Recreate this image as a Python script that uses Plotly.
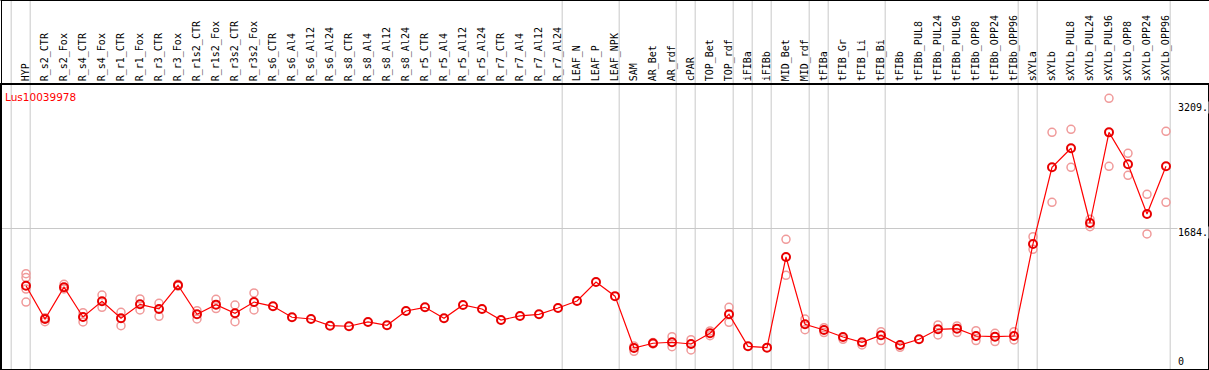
import plotly.graph_objects as go

categories = ["HYP", "R_s2_CTR", "R_s2_Fox", "R_s4_CTR", "R_s4_Fox", "R_r1_CTR", "R_r1_Fox",
              "R_r3_CTR", "R_r3_Fox", "R_r1s2_CTR", "R_r1s2_Fox", "R_r3s2_CTR", "R_r3s2_Fox",
              "R_s6_CTR", "R_s6_Al4", "R_s6_Al12", "R_s6_Al24", "R_s8_CTR", "R_s8_Al4", "R_s8_Al12",
              "R_s8_Al24", "R_r5_CTR", "R_r5_Al4", "R_r5_Al12", "R_r5_Al24", "R_r7_CTR", "R_r7_Al4",
              "R_r7_Al12", "R_r7_Al24", "LEAF_N", "LEAF_P", "LEAF_NPK", "SAM", "AR_Bet", "AR_rdf",
              "cPAR", "TOP_Bet", "TOP_rdf", "iFIBa", "iFIBb", "MID_Bet", "MID_rdf", "tFIBa",
              "tFIB_Gr", "tFIB_Li", "tFIB_Bi", "tFIBb", "tFIBb_PUL8", "tFIBb_PUL24", "tFIBb_PUL96",
              "tFIBb_OPP8", "tFIBb_OPP24", "tFIBb_OPP96", "sXYLa", "sXYLb", "sXYLb_PUL8",
              "sXYLb_PUL24", "sXYLb_PUL96", "sXYLb_OPP8", "sXYLb_OPP24", "sXYLb_OPP96"]

means = [989, 585, 970, 610, 800, 594, 763, 707, 994, 642, 759, 654, 791,
         739, 606, 585, 504, 497, 549, 509, 682, 727, 594, 755, 707, 573, 622, 642, 719,
         804, 1034, 862, 234, 291, 303, 282, 412, 642, 254, 238, 1337, 521, 452,
         367, 303, 388, 270, 339, 460, 468, 379, 371, 379, 1495, 2424, 2655,
         1749, 2848, 2461, 1858, 2436]

rep_a = [1135, 600, 1006, 662, 876, 667, 828, 776, 1006, 686, 824, 755, 901,
         None, None, None, None, None, None, None, None, None, None, None, None, None, None, None, None,
         None, None, None, 258, 300, 371, 335, 440, 727, None, None, 1551, 585, 480,
         339, 270, 432, 242, None, 513, 501, 444, 412, 432, 1583, 2848, 2885,
         1794, 3261, 2594, 2097, 2861]

rep_b = [948, 553, 950, 549, 727, 504, 695, 618, 985, 585, 711, 553, 695,
         None, None, None, None, None, None, None, None, None, None, None, None, None, None, None, None,
         None, None, None, 194, 282, 250, 210, 383, 545, None, None, 1115, 456, 420,
         None, None, 323, None, None, 392, 420, 323, 311, 331, 1430, 2000, 2424,
         1704, 2436, 2327, 1616, 2000]

rep_c = [1088] + [None] * 60
rep_d = [791] + [None] * 60

y_ticks = [0, 1684, 3209]
y_tick_text = ["0", "1684.", "3209."]
gene_id = "Lus10039978"

# group end indices (vertical separators drawn just after these categories)
group_ends = [-1, 0, 28, 31, 34, 35, 37, 38, 39, 41, 42, 45, 52, 53, 60]

W, H = 1209, 370
idx = list(range(len(categories)))

fig = go.Figure()

rx, ry = [], []
for rep in (rep_a, rep_b, rep_c, rep_d):
    for i, v in enumerate(rep):
        if v is not None:
            rx.append(i)
            ry.append(v)

fig.add_trace(go.Scatter(
    x=rx, y=ry, mode="markers", cliponaxis=False,
    marker=dict(symbol="circle-open", size=8, color="#F09A9A", line=dict(width=1.5, color="#F09A9A")),
    hoverinfo="skip", showlegend=False))

fig.add_trace(go.Scatter(
    x=idx, y=means, mode="lines+markers", cliponaxis=False,
    line=dict(color="#FF0000", width=1.2),
    marker=dict(symbol="circle-open", size=8, color="#E80000", line=dict(width=2, color="#E80000")),
    showlegend=False))

shapes = []
for g in group_ends:
    shapes.append(dict(type="line", xref="x", yref="paper", x0=g + 0.22, x1=g + 0.22, y0=0, y1=1,
                       line=dict(color="#C8C8C8", width=1), layer="below"))
# outer header border
shapes.append(dict(type="line", xref="paper", yref="paper", x0=0.5 / W, x1=1, y0=1 - 0.5 / H, y1=1 - 0.5 / H,
                   line=dict(color="black", width=1)))
shapes.append(dict(type="line", xref="paper", yref="paper", x0=1.5 / W, x1=1.5 / W, y0=0, y1=1,
                   line=dict(color="black", width=1)))

annotations = [dict(text=gene_id, xref="paper", yref="paper", x=3 / W, y=(H - 97.5) / H,
                    xanchor="left", yanchor="middle", showarrow=False,
                    font=dict(family="DejaVu Sans", size=10.5, color="#FF0000"))]
shifts = [6, -4, -5]
for v, t, s in zip(y_ticks, y_tick_text, shifts):
    annotations.append(dict(text=t, xref="paper", yref="y", x=1177 / W, y=v, yshift=s,
                            xanchor="left", yanchor="middle", showarrow=False, bgcolor="white",
                            borderpad=0,
                            font=dict(family="DejaVu Sans Mono", size=10, color="black")))

fig.update_layout(
    width=W, height=H, margin=dict(l=0, r=0, t=0, b=0),
    paper_bgcolor="white", plot_bgcolor="white",
    shapes=shapes, annotations=annotations,
    xaxis=dict(domain=[1 / W, 1208 / W], range=[(1 - 26) / 19, (1208 - 26) / 19],
               side="top", tickmode="array", tickvals=idx, ticktext=categories,
               tickangle=-90, ticks="", showgrid=False, zeroline=False,
               showline=True, mirror=True, linecolor="black", linewidth=1.5,
               tickfont=dict(family="DejaVu Sans Mono", size=10, color="black")),
    yaxis=dict(domain=[1 / H, (H - 85) / H], range=[-21, 3422],
               tickmode="array", tickvals=[1684], showticklabels=False, ticks="",
               showgrid=True, gridcolor="#C8C8C8", gridwidth=1, zeroline=False,
               showline=True, mirror=True, linecolor="black", linewidth=1.5),
)

fig.write_html("out.html", config={"displayModeBar": False},
               post_script="document.body.style.margin='0';document.body.style.padding='0';"
                           "document.body.style.overflow='hidden';")
